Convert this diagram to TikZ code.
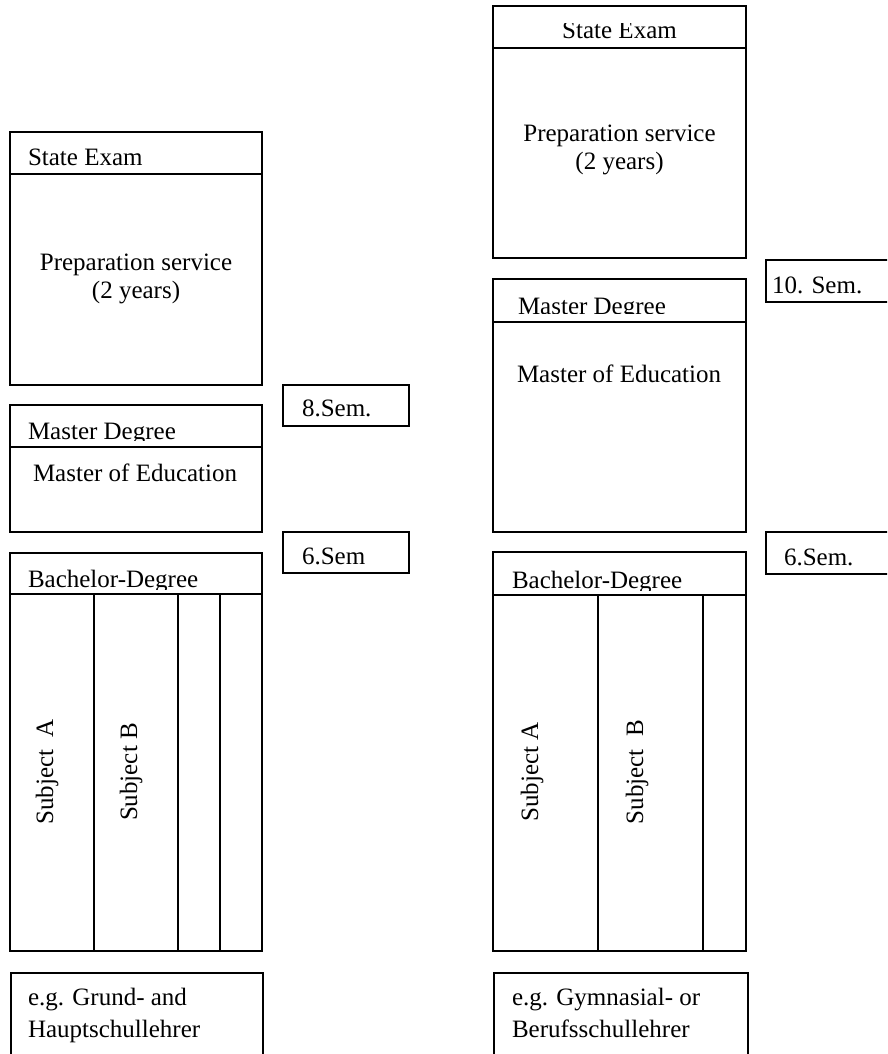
\documentclass[tikz,border=0pt]{standalone}
\usepackage{fontspec}
\setmainfont{Liberation Serif}
\tikzset{
  box/.style={draw=black, line width=1.7pt},
  lbl/.style={inner sep=0pt, outer sep=0pt, font=\fontsize{25}{29}\selectfont},
  lw/.style={lbl, anchor=base west},
  lc/.style={lbl, anchor=base},
  lr/.style={lbl, anchor=base, rotate=90}
}
\begin{document}
\begin{tikzpicture}[x=1pt,y=-1pt]
\useasboundingbox (0,0) rectangle (887,1054);
\fill[white] (0,0) rectangle (887,1054);
\clip (0,0) rectangle (887,1054);
% ---------- left column ----------
\draw[box] (10,132) rectangle (262,385);
\draw[box] (10,174) -- (262,174);
\node[lw] (lse) at (28,165) {State Exam};
\node[lc] (lprep1) at (136,270) {Preparation service};
\node[lc] (lprep2) at (136,298) {(2 years)};

\draw[box] (10,405) rectangle (262,532);
\draw[box] (10,447) -- (262,447);
\begin{scope}
  \clip (12,407) rectangle (260,440);
  \node[lw] (lmd) at (28,439) {Master Degree};
\end{scope}
\node[lw] (lme) at (33,481) {Master of Education};

\draw[box] (283,385) rectangle (409,426);
\node[lw] (l8) at (302,416) {8.Sem.};
\draw[box] (283,532) rectangle (409,573);
\node[lw] (l6) at (302,564) {6.Sem};

\draw[box] (10,553) rectangle (262,951);
\draw[box] (10,594) -- (262,594);
\draw[box] (94,594) -- (94,951);
\draw[box] (178,594) -- (178,951);
\draw[box] (220,594) -- (220,951);
\begin{scope}
  \clip (12,555) rectangle (260,589);
  \node[lw] (lbd) at (28,587) {Bachelor-Degree};
\end{scope}
\node[lr] (lsa) at (53,772) {Subject\ \ A};
\node[lr] (lsb) at (137,772) {Subject B};

\draw[box] (11,973) rectangle (263,1080);
\node[lw] (lex1) at (28,1005) {e.g. Grund- and};
\node[lw] (lex2) at (28,1037) {Hauptschullehrer};

% ---------- right column ----------
\draw[box] (493,6) rectangle (746,258);
\draw[box] (493,48) -- (746,48);
\begin{scope}
  \clip (495,24) rectangle (744,46);
  \node[lc] (rse) at (619.5,38.5) {State Exam};
\end{scope}
\node[lc] (rprep1) at (619.5,141.5) {Preparation service};
\node[lc] (rprep2) at (619.5,169) {(2 years)};

\draw[box] (766,260) rectangle (900,302);
\node[lw] (r10) at (772,293) {10. Sem.};

\draw[box] (493,279) rectangle (746,532);
\draw[box] (493,322) -- (746,322);
\begin{scope}
  \clip (495,297) rectangle (744,313);
  \node[lw] (rmd) at (518,314) {Master Degree};
\end{scope}
\node[lw] (rme) at (517,382) {Master of Education};

\draw[box] (766,532) rectangle (900,574);
\node[lw] (r6) at (784,565) {6.Sem.};

\draw[box] (493,552) rectangle (746,951);
\draw[box] (493,595) -- (746,595);
\draw[box] (598,595) -- (598,951);
\draw[box] (703,595) -- (703,951);
\begin{scope}
  \clip (495,554) rectangle (744,590);
  \node[lw] (rbd) at (512,588) {Bachelor-Degree};
\end{scope}
\node[lr] (rsa) at (538,772) {Subject A};
\node[lr] (rsb) at (643,772) {Subject\ \ B};

\draw[box] (494,973) rectangle (748,1080);
\node[lw] (rex1) at (512,1005) {e.g. Gymnasial- or};
\node[lw] (rex2) at (512,1037) {Berufsschullehrer};
\end{tikzpicture}
\end{document}
